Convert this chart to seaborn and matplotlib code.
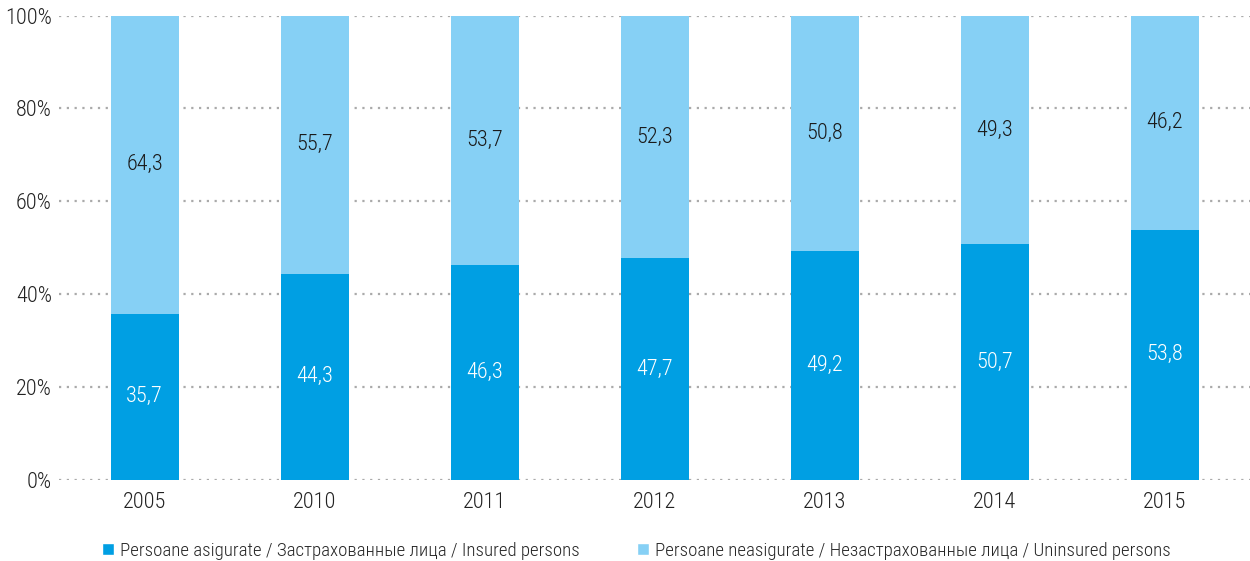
import matplotlib
matplotlib.use("Agg")
import matplotlib.pyplot as plt
from matplotlib import font_manager
from matplotlib.patches import Patch
import seaborn as sns
import pandas as pd

years = ["2005", "2010", "2011", "2012", "2013", "2014", "2015"]
insured = [35.7, 44.3, 46.3, 47.7, 49.2, 50.7, 53.8]
uninsured = [64.3, 55.7, 53.7, 52.3, 50.8, 49.3, 46.2]
yticks = [0, 20, 40, 60, 80, 100]
label_insured = "Persoane asigurate / Застрахованные лица / Insured persons"
label_uninsured = "Persoane neasigurate / Незастрахованные лица / Uninsured persons"

dark = "#009FE3"
light = "#86D0F5"

sns.set_theme(style="white")
names = {f.name for f in font_manager.fontManager.ttflist}
family = "Roboto"
for cand in ["Roboto Condensed", "Liberation Sans Narrow", "Roboto"]:
    if cand in names:
        family = cand
        break
plt.rcParams["font.family"] = [family, "DejaVu Sans"]

df = pd.DataFrame({"year": years, "insured": insured, "uninsured": uninsured})
df["total"] = df["insured"] + df["uninsured"]

fig = plt.figure(figsize=(12.5, 5.61), dpi=100)
ax = fig.add_axes([0.047, 0.145, 0.953, 0.827])

sns.barplot(data=df, x="year", y="total", color=light, width=0.4, ax=ax,
            saturation=1, linewidth=0)
sns.barplot(data=df, x="year", y="insured", color=dark, width=0.4, ax=ax,
            saturation=1, linewidth=0)

for i, (a, b) in enumerate(zip(insured, uninsured)):
    ax.text(i, a / 2, f"{a:.1f}".replace(".", ","), ha="center", va="center",
            color="white", fontsize=16, fontweight="light")
    ax.text(i, a + b / 2, f"{b:.1f}".replace(".", ","), ha="center", va="center",
            color="#1a1a1a", fontsize=16, fontweight="light")

ax.set_ylim(0, 100)
ax.set_xlim(-0.505, 6.5)
ax.set_yticks(yticks)
ax.set_yticklabels([f"{t}%" for t in yticks])
ax.yaxis.grid(True, linestyle=(0, (1, 2.5)), color="#aaaaaa", linewidth=1.6)
ax.set_axisbelow(True)
for s in ax.spines.values():
    s.set_visible(False)
ax.set_xlabel("")
ax.set_ylabel("")
ax.tick_params(axis="both", length=0, labelsize=16, colors="#222222", pad=5)
ax.tick_params(axis="x", pad=9)
for lab in ax.get_xticklabels() + ax.get_yticklabels():
    lab.set_fontweight("light")

handles = [Patch(facecolor=dark, label=label_insured),
           Patch(facecolor=light, label=label_uninsured)]
fig.legend(handles=handles, loc="lower center", bbox_to_anchor=(0.509, -0.028),
           ncol=2, frameon=False, handlelength=0.65, handleheight=0.65,
           handletextpad=0.3, columnspacing=3.0, prop={"weight": "light", "size": 13.6})

fig.savefig("out.png", dpi=100)
